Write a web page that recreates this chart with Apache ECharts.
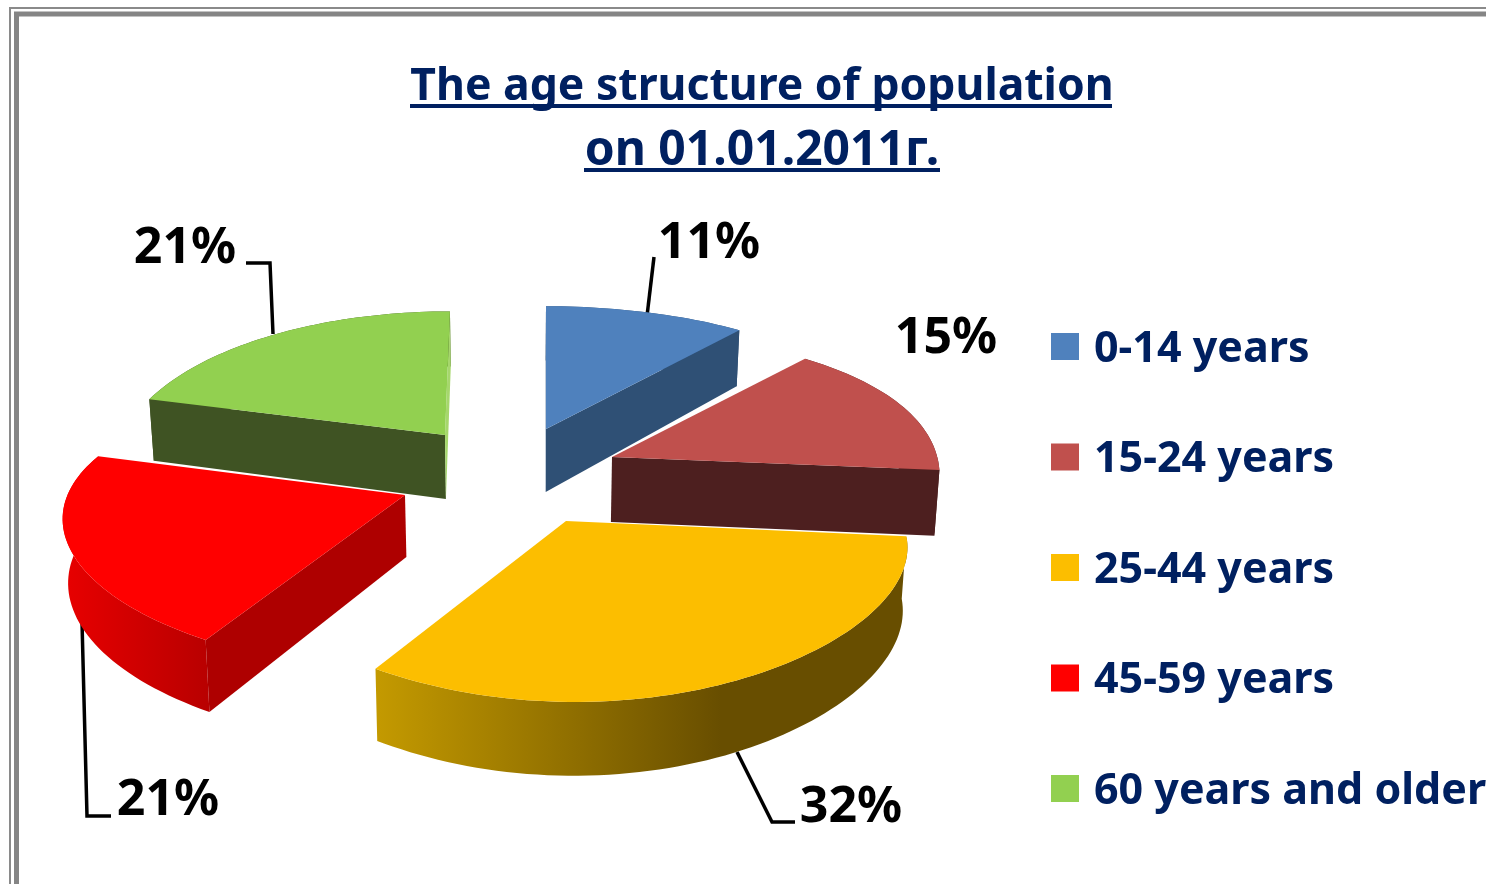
<!DOCTYPE html>
<html>
<head>
<meta charset="utf-8">
<style>
  html, body { margin: 0; padding: 0; background: #fff; }
  #main { width: 1486px; height: 884px; overflow: hidden; }
</style>
</head>
<body>
<div id="main"></div>
<script src="https://cdn.jsdelivr.net/npm/echarts@6/dist/echarts.min.js"></script>
<script>
var titleLines = ['The age structure of population', 'on 01.01.2011г.'];
var categories = ['0-14 years', '15-24 years', '25-44 years', '45-59 years', '60 years and older'];
var shares = [11, 15, 32, 21, 21];
var topColors = ['#4f81bd', '#c0504d', '#fcbe00', '#ff0000', '#92d050'];

// how each exploded slice is projected: apex on screen, radii, perspective, wall height
var sliceView = [
  { ax: 546, ay: 429, rx: 350, ry: 151, px: 0.2, py: 0.23, sk: 0, kx: 0, h: 63 },
  { ax: 612, ay: 457, rx: 326, ry: 153, px: 0.1, py: 0.23, sk: 0.01, kx: 0, h: 65 },
  { ax: 566, ay: 521, rx: 338, ry: 132, px: 0.15, py: 0.27, sk: 0.02, kx: -0.02, h: 62 },
  { ax: 405, ay: 495, rx: 334, ry: 136, px: 0.22, py: 0.23, sk: 0.022, kx: 0, h: 62 },
  { ax: 445, ay: 435, rx: 322, ry: 152, px: 0.2, py: 0.23, sk: 0, kx: -0.04, h: 64 }
];
// start cut, end cut, outer wall
var wallColors = [
  ['#3a5f8a', '#2f5075', '#2f5075'],
  ['#4d1f1f', '#4d1f1f', '#4d1f1f'],
  ['#664c00', '#664c00', [[0, '#c49a00'], [0.65, '#684e00'], [1, '#684e00']]],
  ['#ae0000', '#ae0000', [[0, '#e80000'], [1, '#b80000']]],
  ['#3f5323', '#a6d76c', '#3f5323']
];
var drawOrder = [0, 2, 4, 1, 3];

var labelSpots = [
  { x: 709, y: 244, line: [[654, 257], [647, 316]] },
  { x: 946, y: 339, line: null },
  { x: 851, y: 808, line: [[795, 822], [772, 822], [737, 752]] },
  { x: 168, y: 801, line: [[111, 816], [87, 816], [82, 622]] },
  { x: 185, y: 249, line: [[246, 263], [270, 263], [273, 334]] }
];

var total = shares.reduce(function (a, b) { return a + b; }, 0);
var chart = echarts.init(document.getElementById('main'));

function topPoint(v, deg) {
  var t = deg * Math.PI / 180;
  var s = Math.sin(t), c = Math.cos(t);
  var dx = v.rx * s / (1 + v.px * c);
  var dy = -v.ry * c / (1 + v.py * c);
  return [v.ax + dx + v.kx * dy, v.ay + dy + v.sk * dx];
}

function dropPoint(v, pt, deg) {
  var c = Math.cos(deg * Math.PI / 180);
  var d = v.h / (1 + 0.16 * c);
  return [pt[0] - (pt[0] - 520) * 0.012, pt[1] + d];
}

function wallFill(c) {
  if (typeof c === 'string') return c;
  return new echarts.graphic.LinearGradient(0, 0, 1, 0, c.map(function (s) {
    return { offset: s[0], color: s[1] };
  }));
}

function renderSlice(i) {
  return function () {
    var v = sliceView[i];
    var before = 0;
    for (var k = 0; k < i; k++) before += shares[k];
    var a0 = before / total * 360;
    var a1 = (before + shares[i]) / total * 360;
    var apex = [v.ax, v.ay];
    var apexLow = dropPoint(v, apex, 90);
    var arc = [], arcLow = [];
    for (var d = a0; d < a1; d += 1.5) {
      arc.push(topPoint(v, d));
      arcLow.push(dropPoint(v, arc[arc.length - 1], d));
    }
    arc.push(topPoint(v, a1));
    arcLow.push(dropPoint(v, arc[arc.length - 1], a1));
    var n = arc.length - 1;
    var kids = [];
    var spot = labelSpots[i];
    if (spot.line) {
      kids.push({ type: 'polyline', shape: { points: spot.line }, style: { fill: null, stroke: '#000', lineWidth: 3.5 } });
    }
    kids.push({ type: 'polygon', shape: { points: arc.concat(arcLow.slice().reverse()) }, style: { fill: wallFill(wallColors[i][2]) } });
    if (Math.sin(a0 * Math.PI / 180) < 0.01) {
      kids.push({ type: 'polygon', shape: { points: [apex, arc[0], arcLow[0], apexLow] }, style: { fill: wallColors[i][0] } });
    }
    if (Math.sin(a1 * Math.PI / 180) > -0.01) {
      kids.push({ type: 'polygon', shape: { points: [apex, arc[n], arcLow[n], apexLow] }, style: { fill: wallColors[i][1] } });
    }
    kids.push({ type: 'polygon', shape: { points: [apex].concat(arc) }, style: { fill: topColors[i] } });
    kids.push({
      type: 'text',
      style: {
        text: shares[i] + '%', x: spot.x, y: spot.y, align: 'center', verticalAlign: 'middle',
        fontFamily: 'Noto Sans', fontWeight: 'bold', fontSize: 50, fill: '#000'
      }
    });
    return { type: 'group', children: kids };
  };
}

var option = {
  animation: false,
  backgroundColor: '#fff',
  title: {
    text: '{a|' + titleLines[0] + '}\n{b|' + titleLines[1] + '}',
    left: 757,
    top: 50,
    textAlign: 'center',
    textStyle: {
      rich: {
        a: { fontFamily: 'Noto Sans', fontWeight: 'bold', fontSize: 44.5, lineHeight: 64, color: '#002060' },
        b: { fontFamily: 'Noto Sans', fontWeight: 'bold', fontSize: 48, lineHeight: 64, color: '#002060' }
      }
    }
  },
  legend: {
    data: categories,
    orient: 'vertical',
    left: 1051,
    top: 324.5,
    padding: 0,
    // square sits at the top of a taller box so it lines up a little above the text centre
    icon: 'path://M0,0H28V27H0ZM0,33L0,33Z',
    itemWidth: 28,
    itemHeight: 33,
    itemGap: 60.5,
    selectedMode: false,
    textStyle: { fontFamily: 'Noto Sans', fontWeight: 'bold', fontSize: 43, lineHeight: 50, color: '#002060', padding: [0, 0, 0, 10] }
  },
  graphic: [
    { type: 'rect', shape: { x: 10, y: 8, width: 1500, height: 900 }, style: { fill: null, stroke: '#8a8a8a', lineWidth: 2 }, silent: true },
    { type: 'rect', shape: { x: 16.5, y: 14, width: 1500, height: 900 }, style: { fill: null, stroke: '#858585', lineWidth: 5 }, silent: true },
    { type: 'line', shape: { x1: 410, y1: 106, x2: 1112, y2: 106 }, style: { stroke: '#002060', lineWidth: 4 }, silent: true },
    { type: 'line', shape: { x1: 584, y1: 170, x2: 940, y2: 170 }, style: { stroke: '#002060', lineWidth: 4 }, silent: true }
  ],
  series: categories.map(function (name, i) {
    return {
      type: 'custom',
      name: name,
      coordinateSystem: 'none',
      z: 2 + drawOrder.indexOf(i),
      silent: true,
      itemStyle: { color: topColors[i] },
      data: [[shares[i]]],
      renderItem: renderSlice(i)
    };
  })
};

chart.setOption(option);
</script>
</body>
</html>
